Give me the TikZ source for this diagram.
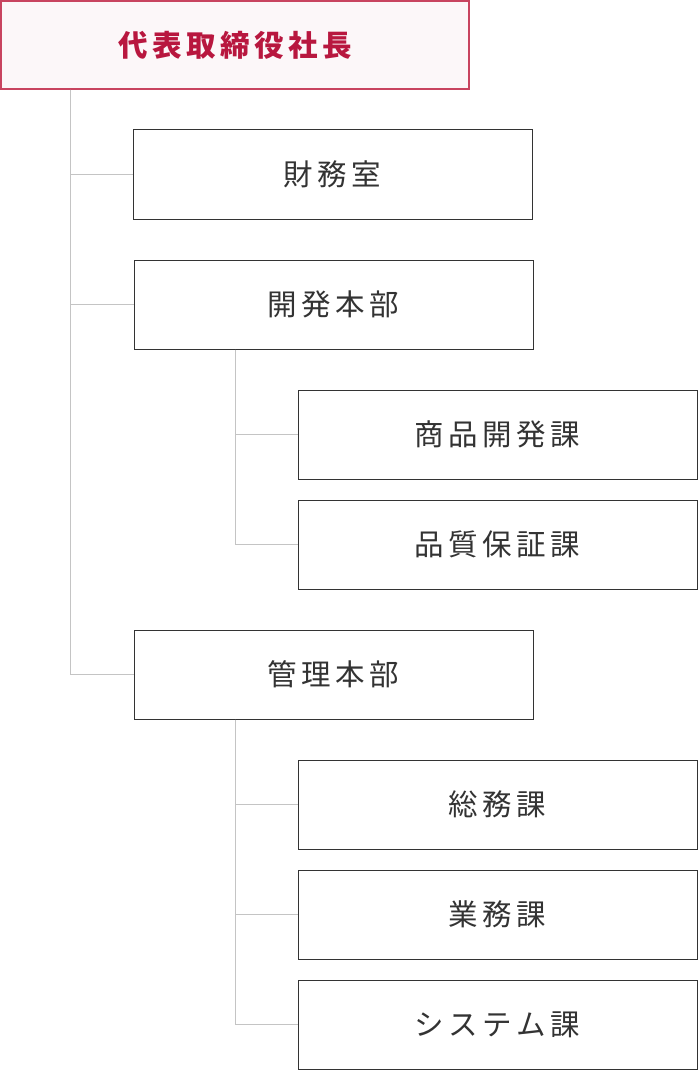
\documentclass[tikz,border=0pt]{standalone}
\usepackage{fontspec}
\setmainfont{Noto Sans CJK JP}
\newlength\trk
\setlength\trk{4.5pt}
\def\gobbleone#1{}
\def\spc#1{\spcA#1\relax}
\def\spcA#1#2{#1\ifx\relax#2\expandafter\gobbleone\else\kern\trk\fi\spcA#2}
\definecolor{txt}{HTML}{333333}
\definecolor{crim}{HTML}{B8173F}
\definecolor{crimline}{HTML}{C84460}
\definecolor{pinkbg}{HTML}{FCF7F9}
\definecolor{conn}{HTML}{C4C4C4}
\begin{document}
\begin{tikzpicture}[x=1pt,y=-1pt,
  unitbox/.style={draw=txt,line width=1pt,fill=white,minimum width=399pt,minimum height=89pt,inner sep=0pt,text=txt,font=\fontsize{29.5pt}{33pt}\selectfont},
  topbox/.style={draw=crimline,line width=1.2pt,fill=pinkbg,minimum width=468pt,minimum height=88pt,inner sep=0pt,text=crim,font=\fontsize{29.5pt}{33pt}\selectfont\bfseries},
  connector/.style={draw=conn,line width=1pt}]
\useasboundingbox (0,0) rectangle (699,1070);
\node[topbox] (ceo) at (235,45) {\spc{代表取締役社長}};
\node[unitbox] (zaimu) at (332.5,174.5) {\spc{財務室}};
\node[unitbox] (kaihatsu) at (333.5,304.5) {\spc{開発本部}};
\node[unitbox] (shohin) at (497.5,434.5) {\spc{商品開発課}};
\node[unitbox] (hinshitsu) at (497.5,544.5) {\spc{品質保証課}};
\node[unitbox] (kanri) at (333.5,674.5) {\spc{管理本部}};
\node[unitbox] (somu) at (497.5,804.5) {\spc{総務課}};
\node[unitbox] (gyomu) at (497.5,914.5) {\spc{業務課}};
\node[unitbox] (system) at (497.5,1024.5) {\spc{システム課}};
\draw[connector] ([xshift=70pt]ceo.south west) |- (zaimu.west);
\draw[connector] ([xshift=70pt]ceo.south west) |- (kaihatsu.west);
\draw[connector] ([xshift=70pt]ceo.south west) |- (kanri.west);
\draw[connector] ([xshift=102pt]kaihatsu.south west) |- (shohin.west);
\draw[connector] ([xshift=102pt]kaihatsu.south west) |- (hinshitsu.west);
\draw[connector] ([xshift=102pt]kanri.south west) |- (somu.west);
\draw[connector] ([xshift=102pt]kanri.south west) |- (gyomu.west);
\draw[connector] ([xshift=102pt]kanri.south west) |- (system.west);
\end{tikzpicture}
\end{document}
